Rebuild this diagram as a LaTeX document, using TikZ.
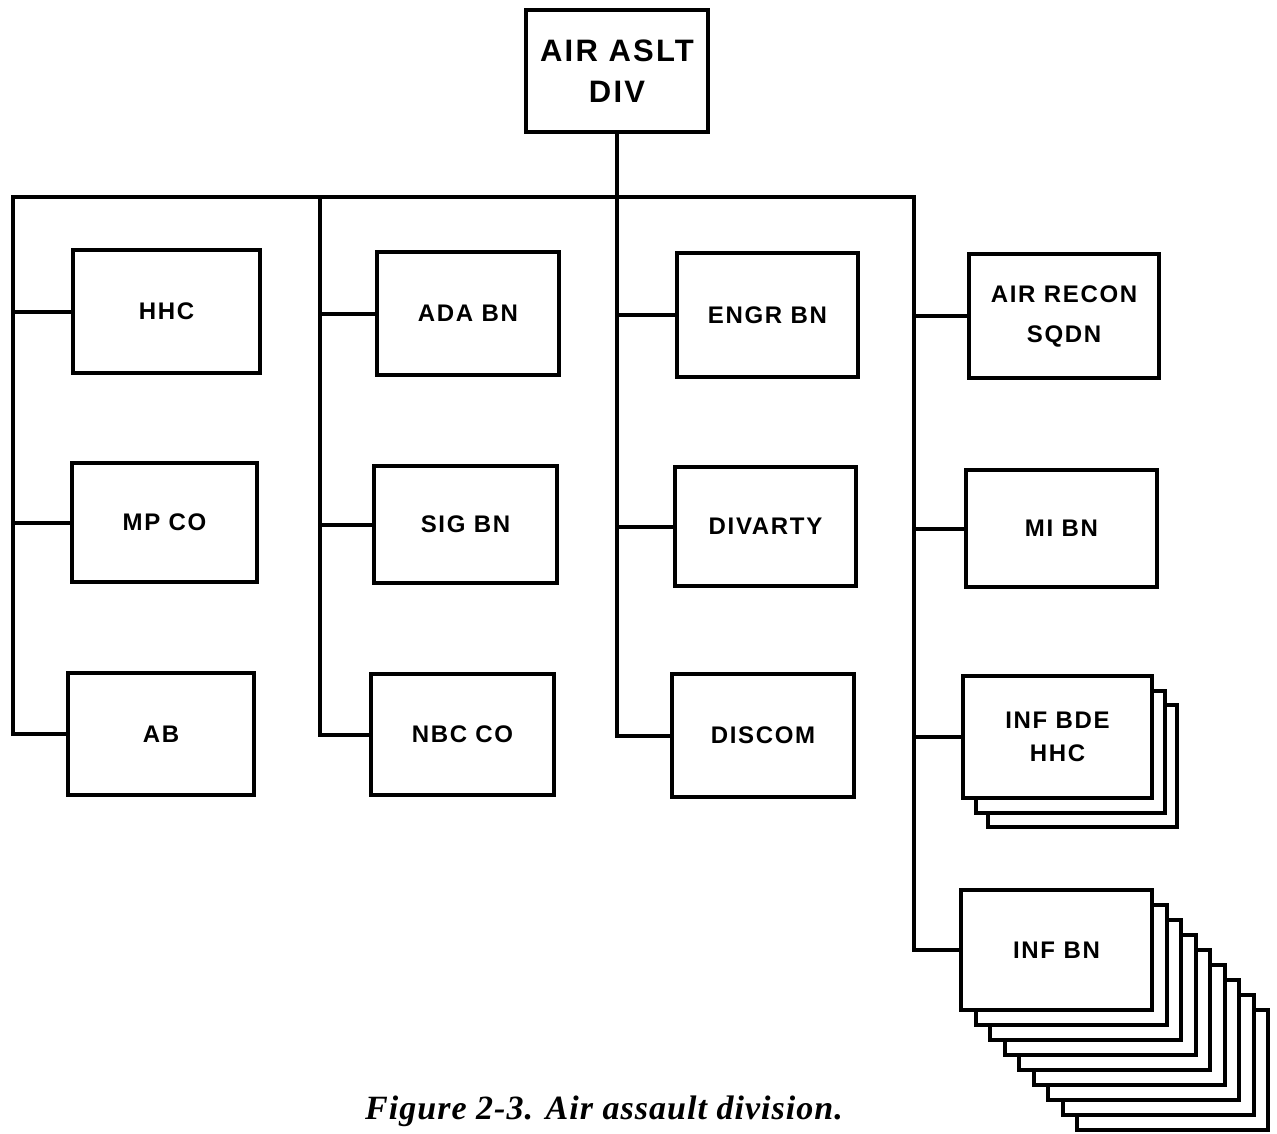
\documentclass[tikz,border=0pt]{standalone}
\usepackage{fontspec}
\setmainfont{Liberation Sans}[LetterSpace=7]
\newfontfamily\capfont{Liberation Serif}[LetterSpace=3]
\begin{document}
\begin{tikzpicture}[x=1pt,y=-1pt,
  box/.style={draw, line width=4pt, fill=white, align=center, inner sep=0pt,
    font=\fontsize{24}{38}\selectfont\bfseries},
  link/.style={line width=4pt}]
\useasboundingbox (0,0) rectangle (1277,1134);
% top
\node[box, minimum width=182, minimum height=122, font=\fontsize{31}{41}\selectfont\bfseries] (div) at (617,71) {AIR ASLT\\DIV};
% bus coordinates
\coordinate (c1) at (13,197);
\coordinate (c2) at (320,197);
\coordinate (c3) at (617,197);
\coordinate (c4) at (914,197);
% column 1
\node[box, minimum width=187, minimum height=123] (hhc) at (166.5,311.5) {HHC};
\node[box, minimum width=185, minimum height=119] (mpco) at (164.5,522.5) {MP CO};
\node[box, minimum width=186, minimum height=122] (ab) at (161,734) {AB};
% column 2
\node[box, minimum width=182, minimum height=123] (ada) at (468,313.5) {ADA BN};
\node[box, minimum width=183, minimum height=117] (sig) at (465.5,524.5) {SIG BN};
\node[box, minimum width=183, minimum height=121] (nbc) at (462.5,734.5) {NBC CO};
% column 3
\node[box, minimum width=181, minimum height=124] (engr) at (767.5,315) {ENGR BN};
\node[box, minimum width=181, minimum height=119] (divarty) at (765.5,526.5) {DIVARTY};
\node[box, minimum width=182, minimum height=123] (discom) at (763,735.5) {DISCOM};
% column 4
\node[box, minimum width=190, minimum height=124, font=\fontsize{24}{40}\selectfont\bfseries] (recon) at (1064,316) {AIR RECON\\SQDN};
\node[box, minimum width=191, minimum height=117] (mi) at (1061.5,528.5) {MI BN};
\foreach \k in {2,1}{
  \node[box, minimum width=189, minimum height=122] (bde\k) at ({1057.5+12.5*\k},{737+14.5*\k}) {};
}
\node[box, minimum width=189, minimum height=122, font=\fontsize{24}{33}\selectfont\bfseries] (bde) at (1057.5,737) {INF BDE\\HHC};
\foreach \k in {8,7,...,1}{
  \node[box, minimum width=191, minimum height=120] (bn\k) at ({1056.5+14.5*\k},{950+15*\k}) {};
}
\node[box, minimum width=191, minimum height=120] (bn) at (1056.5,950) {INF BN};
% connectors
\draw[link] (div.south) -- (c3);
\draw[link] (ab.west -| c1) -- (c1) -- (c4) -- (bn.west -| c4);
\draw[link] (c2) -- (nbc.west -| c2);
\draw[link] (c3) -- (discom.west -| c3);
\foreach \n/\c in {hhc/c1,mpco/c1,ab/c1,ada/c2,sig/c2,nbc/c2,engr/c3,divarty/c3,discom/c3,recon/c4,mi/c4,bde/c4,bn/c4}{
  \draw[link, line cap=rect] (\n.west -| \c) -- (\n.west);
}
% caption
\node[font=\capfont\bfseries\itshape\fontsize{34}{38}\selectfont, inner sep=0pt] (cap) at (604,1111) {Figure 2-3. Air assault division.};
\end{tikzpicture}
\end{document}
